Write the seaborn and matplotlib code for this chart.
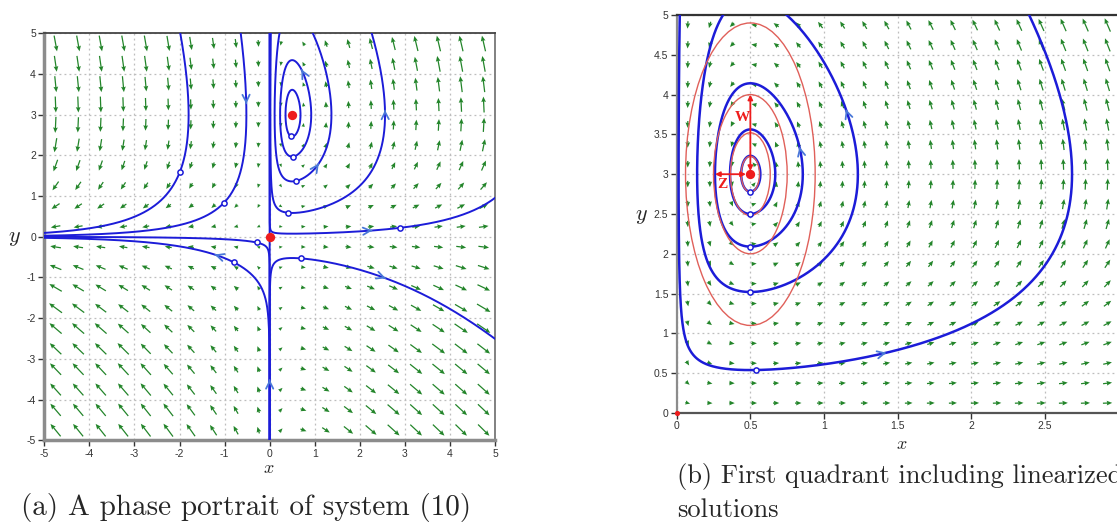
#! /usr/bin/env python
"""
Phase portrait of a Lotka-Volterra type system, x' = x(3 - y), y' = y(2x - 1),
with a first quadrant close-up that adds the linearized (elliptic) solutions.
"""

import math
import numpy as np
import seaborn as sns
import matplotlib.pyplot as plt
from matplotlib.patches import Ellipse

# model coefficients
A_RATE, B_RATE, C_RATE, D_RATE = 3.0, 1.0, 1.0, 2.0

# equilibria
EQ_X = [0.0, 0.5]
EQ_Y = [0.0, 3.0]

# panel (a): marked initial points of the orbits
LEFT_START_X = [-1.99, -1.01, -0.29, -0.79, 0.47, 0.52, 0.58, 0.41, 2.89, 0.69]
LEFT_START_Y = [1.60, 0.84, -0.14, -0.63, 2.47, 1.97, 1.37, 0.59, 0.22, -0.53]
# orbits along the y axis (no marker)
AXIS_START_X = [0.0, 0.0]
AXIS_START_Y = [-5.0, 5.0]
# where the direction heads sit on the orbits
LEFT_HEAD_X = [-0.51, -1.25, 0.71, 1.08, 2.56, 2.26, 2.56, 0.0]
LEFT_HEAD_Y = [3.28, -0.57, 4.10, 1.79, 3.10, 0.15, -1.02, -3.52]

# panel (b)
RIGHT_START_X = [0.50, 0.50, 0.50, 0.50, 0.54]
RIGHT_START_Y = [2.78, 2.50, 2.09, 1.52, 0.54]
RIGHT_HEAD_X = [0.85, 1.15, 1.41]
RIGHT_HEAD_Y = [3.33, 3.80, 0.75]
# linearized solutions: semi axes in z (horizontal) and w (vertical)
ELLIPSE_Z = [0.062, 0.135, 0.25, 0.44]
ELLIPSE_W = [0.225, 0.52, 1.00, 1.90]
Z_ARROW_END = 0.26
W_ARROW_END = 4.0

LEFT_TICKS = [-5, -4, -3, -2, -1, 0, 1, 2, 3, 4, 5]
LEFT_TICK_LABELS = ["-5", "-4", "-3", "-2", "-1", "0", "1", "2", "3", "4", "5"]
RIGHT_XTICKS = [0, 0.5, 1, 1.5, 2, 2.5]
RIGHT_XTICK_LABELS = ["0", "0.5", "1", "1.5", "2", "2.5"]
RIGHT_YTICKS = [0, 0.5, 1, 1.5, 2, 2.5, 3, 3.5, 4, 4.5, 5]
RIGHT_YTICK_LABELS = ["0", "0.5", "1", "1.5", "2", "2.5", "3", "3.5", "4", "4.5", "5"]

GREEN = "#23852a"
BLUE = "#1c1cd8"
HEAD_BLUE = "#4a78d8"
RED = "#ee1c1c"
ELLIPSE_RED = "#e0605a"

W_PX, H_PX = 1117, 527


def field(x, y):
    return x * (A_RATE - B_RATE * y), y * (D_RATE * x - C_RATE)


def unit(x, y, sign):
    fx, fy = field(x, y)
    n = math.hypot(fx, fy)
    if n == 0:
        return 0.0, 0.0
    return sign * fx / n, sign * fy / n


def trace(x0, y0, sign, box, ds=0.003, nmax=6000):
    """Integrates along arc length until the orbit leaves the box, stalls or closes"""
    xmin, xmax, ymin, ymax = box
    xs, ys = [x0], [y0]
    x, y = x0, y0
    for i in range(nmax):
        fx, fy = field(x, y)
        if math.hypot(fx, fy) < 0.01:
            break
        k1 = unit(x, y, sign)
        k2 = unit(x + 0.5 * ds * k1[0], y + 0.5 * ds * k1[1], sign)
        k3 = unit(x + 0.5 * ds * k2[0], y + 0.5 * ds * k2[1], sign)
        k4 = unit(x + ds * k3[0], y + ds * k3[1], sign)
        x += ds * (k1[0] + 2 * k2[0] + 2 * k3[0] + k4[0]) / 6
        y += ds * (k1[1] + 2 * k2[1] + 2 * k3[1] + k4[1]) / 6
        xs.append(x)
        ys.append(y)
        if x < xmin - 0.05 or x > xmax + 0.05 or y < ymin - 0.05 or y > ymax + 0.05:
            break
        if i > 40 and math.hypot(x - x0, y - y0) < 1.5 * ds:
            xs.append(x0)
            ys.append(y0)
            return np.array(xs), np.array(ys), True
    return np.array(xs), np.array(ys), False


def full_orbit(x0, y0, box):
    fx, fy, closed = trace(x0, y0, 1, box)
    if closed:
        return fx, fy
    bx, by, _ = trace(x0, y0, -1, box)
    return np.concatenate([bx[::-1], fx[1:]]), np.concatenate([by[::-1], fy[1:]])


def draw_field(ax, box, sx, sy, short, long_, knee, power):
    xmin, xmax, ymin, ymax = box
    gx = xmin + (np.arange(20) + 0.5) * (xmax - xmin) / 20
    gy = ymin + (np.arange(20) + 0.5) * (ymax - ymin) / 20
    X, Y = np.meshgrid(gx, gy)
    FX, FY = field(X, Y)
    mag = np.hypot(FX, FY)
    px, py = FX * sx, FY * sy
    pn = np.hypot(px, py)
    rel = np.minimum(1.0, mag / (knee * mag.max()))
    length = short + long_ * rel ** power
    U = length * px / pn / sx
    V = length * py / pn / sy
    ax.quiver(X, Y, U, V, angles="xy", scale_units="xy", scale=1, pivot="middle",
              color=GREEN, units="dots", width=1.25, headwidth=3.8, headlength=4.4,
              headaxislength=3.9, zorder=2)


def draw_heads(ax, orbits, hx, hy):
    for x, y in zip(hx, hy):
        best = None
        for ox, oy in orbits:
            d = np.hypot(ox - x, oy - y)
            i = int(np.argmin(d))
            if best is None or d[i] < best[0]:
                best = (d[i], ox, oy, i)
        _, ox, oy, i = best
        i = min(i, len(ox) - 6)
        ax.annotate("", xy=(ox[i + 5], oy[i + 5]), xytext=(ox[i], oy[i]),
                    arrowprops=dict(arrowstyle="->", color=HEAD_BLUE, lw=1.3,
                                    mutation_scale=13, shrinkA=0, shrinkB=0),
                    zorder=5)


def style_axes(ax, box, xticks, xlabels, yticks, ylabels):
    ax.set_xlim(box[0], box[1])
    ax.set_ylim(box[2], box[3])
    ax.set_xticks(xticks)
    ax.set_xticklabels(xlabels)
    ax.set_yticks(yticks)
    ax.set_yticklabels(ylabels)
    ax.set_xlabel("")
    ax.set_ylabel("")
    ax.grid(True, linestyle=(0, (1.5, 2.5)), color="#bdbdbd", linewidth=0.9)
    ax.set_axisbelow(True)
    ax.tick_params(bottom=True, left=True, length=4, width=1, color="#333333",
                   direction="out", labelsize=7.5, labelcolor="#333333", pad=2)
    for label in ax.get_xticklabels() + ax.get_yticklabels():
        label.set_family("Liberation Sans")
    ax.spines["left"].set(color="#8c8c8c", linewidth=2.5)
    ax.spines["bottom"].set(color="#8c8c8c", linewidth=2.5)
    ax.spines["top"].set(color="#444444", linewidth=1.3)
    ax.spines["right"].set(color="#777777", linewidth=1.3)


def main() -> None:
    sns.set_style("whitegrid")
    plt.rcParams["font.family"] = ["DejaVu Sans"]
    plt.rcParams["mathtext.fontset"] = "cm"
    plt.rcParams["axes.unicode_minus"] = False

    fig = plt.figure(figsize=(W_PX / 100, H_PX / 100), dpi=100)

    # ---------- panel (a) ----------
    left_box = (-5, 5, -5, 5)
    l0, r0, t0, b0 = 44.3, 495.0, 33.3, 440.3
    ax1 = fig.add_axes([l0 / W_PX, 1 - b0 / H_PX, (r0 - l0) / W_PX, (b0 - t0) / H_PX])
    draw_field(ax1, left_box, (r0 - l0) / 10, (b0 - t0) / 10, 3.0, 13.0, 0.45, 0.9)

    orbits = []
    for x0, y0 in zip(AXIS_START_X, AXIS_START_Y):
        ox, oy, _ = trace(x0, y0, 1, left_box)
        orbits.append((ox, oy))
    for x0, y0 in zip(LEFT_START_X, LEFT_START_Y):
        orbits.append(full_orbit(x0, y0, left_box))
    for ox, oy in orbits:
        sns.lineplot(x=ox, y=oy, sort=False, estimator=None, ax=ax1, color=BLUE,
                     linewidth=1.4, zorder=3)
    sns.scatterplot(x=LEFT_START_X, y=LEFT_START_Y, ax=ax1, s=14, marker="o",
                    facecolor="white", edgecolor=BLUE, linewidth=1.1, zorder=4)
    draw_heads(ax1, orbits, LEFT_HEAD_X, LEFT_HEAD_Y)
    sns.scatterplot(x=EQ_X, y=EQ_Y, ax=ax1, s=45, color=RED, linewidth=0, zorder=6)
    style_axes(ax1, left_box, LEFT_TICKS, LEFT_TICK_LABELS, LEFT_TICKS, LEFT_TICK_LABELS)

    # ---------- panel (b) ----------
    right_box = (0, 3, 0, 5)
    l1, t1, b1 = 676.7, 15.0, 413.0
    sx1, sy1 = 147.3, (b1 - t1) / 5
    ax2 = fig.add_axes([l1 / W_PX, 1 - b1 / H_PX, 3 * sx1 / W_PX, (b1 - t1) / H_PX])
    draw_field(ax2, right_box, sx1, sy1, 4.5, 10.0, 1.0, 0.7)

    orbits = [full_orbit(x0, y0, right_box) for x0, y0 in zip(RIGHT_START_X, RIGHT_START_Y)]
    for ox, oy in orbits:
        sns.lineplot(x=ox, y=oy, sort=False, estimator=None, ax=ax2, color=BLUE,
                     linewidth=1.8, zorder=3)
    for a, b in zip(ELLIPSE_Z, ELLIPSE_W):
        ax2.add_patch(Ellipse((EQ_X[1], EQ_Y[1]), 2 * a, 2 * b, fill=False,
                              edgecolor=ELLIPSE_RED, linewidth=1.0, zorder=4))
    sns.scatterplot(x=RIGHT_START_X, y=RIGHT_START_Y, ax=ax2, s=14, marker="o",
                    facecolor="white", edgecolor=BLUE, linewidth=1.1, zorder=4)
    draw_heads(ax2, orbits, RIGHT_HEAD_X, RIGHT_HEAD_Y)

    ax2.annotate("", xy=(EQ_X[1], W_ARROW_END), xytext=(EQ_X[1], EQ_Y[1] + 0.04),
                 arrowprops=dict(arrowstyle="<|-|>", color=RED, lw=1.3,
                                 mutation_scale=7, shrinkA=0, shrinkB=0), zorder=6)
    ax2.annotate("", xy=(Z_ARROW_END, EQ_Y[1]), xytext=(EQ_X[1] - 0.03, EQ_Y[1]),
                 arrowprops=dict(arrowstyle="<|-|>", color=RED, lw=1.3,
                                 mutation_scale=7, shrinkA=0, shrinkB=0), zorder=6)
    ax2.text(0.445, 3.71, "W", color=RED, fontsize=11, fontweight="bold",
             family="Liberation Serif", ha="center", va="center", zorder=7)
    ax2.text(0.31, 2.87, "Z", color=RED, fontsize=11, fontweight="bold",
             family="Liberation Serif", ha="center", va="center", zorder=7)
    sns.scatterplot(x=EQ_X[1:], y=EQ_Y[1:], ax=ax2, s=45, color=RED, linewidth=0, zorder=6)
    sns.scatterplot(x=EQ_X[:1], y=EQ_Y[:1], ax=ax2, s=14, color=RED, linewidth=0,
                    zorder=6, clip_on=False)
    style_axes(ax2, right_box, RIGHT_XTICKS, RIGHT_XTICK_LABELS, RIGHT_YTICKS,
               RIGHT_YTICK_LABELS)
    ax2.spines["left"].set(color="#8c8c8c", linewidth=1.6)
    ax2.spines["bottom"].set(color="#555555", linewidth=1.6)
    ax2.spines["top"].set(color="#333333", linewidth=1.6)

    # axis names and captions
    fig.text(14 / W_PX, 1 - 238 / H_PX, "$y$", fontsize=16, ha="center", va="center")
    fig.text(269 / W_PX, 1 - 468 / H_PX, "$x$", fontsize=13, ha="center", va="center")
    fig.text(641 / W_PX, 1 - 216 / H_PX, "$y$", fontsize=16, ha="center", va="center")
    fig.text(902 / W_PX, 1 - 444 / H_PX, "$x$", fontsize=13, ha="center", va="center")
    fig.text(21 / W_PX, 1 - 508 / H_PX, "(a) A phase portrait of system (10)",
             family="cmr10", fontsize=21, ha="left", va="center")
    # the reference is cropped at the right edge, so the last letter runs off the page there too
    fig.text(677 / W_PX, 1 - 476 / H_PX, "(b) First quadrant including linearized",
             family="cmr10", fontsize=19, ha="left", va="center")
    fig.text(677 / W_PX, 1 - 510 / H_PX, "solutions",
             family="cmr10", fontsize=19, ha="left", va="center")

    fig.savefig("out.png", dpi=100)


if __name__ == "__main__":
    main()
